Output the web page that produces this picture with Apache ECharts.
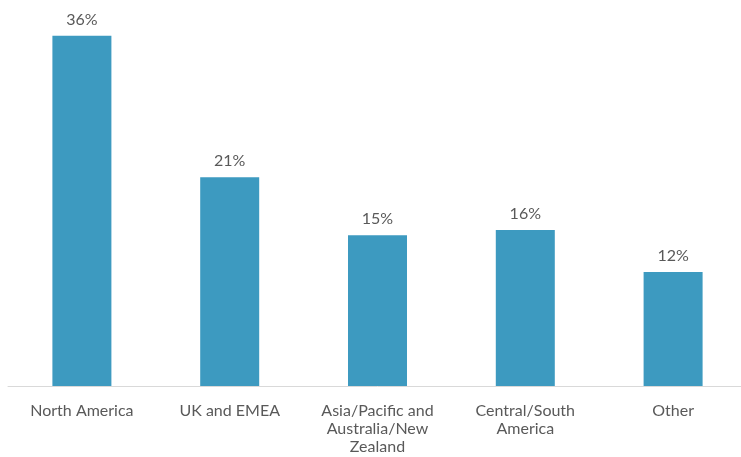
<!DOCTYPE html>
<html><head><meta charset="utf-8">
<script src="https://cdn.jsdelivr.net/npm/echarts@6/dist/echarts.min.js"></script>
<style>html,body{margin:0;padding:0;background:#fff;overflow:hidden}#c{width:747px;height:457px}</style>
</head><body><div id="c"></div>
<script>
const categories = ["North America", "UK and EMEA", "Asia/Pacific and\nAustralia/New\nZealand", "Central/South\nAmerica", "Other"];
const shares = [35.74, 21.3, 15.38, 15.92, 11.63];

const chart = echarts.init(document.getElementById('c'), null, {renderer: 'canvas'});
chart.setOption({
  animation: false,
  grid: {left: 8, right: 0, top: 13.6, bottom: 71, containLabel: false},
  xAxis: {
    type: 'category', data: categories,
    axisLine: {lineStyle: {color: '#D9D9D9', width: 1}},
    axisTick: {show: false},
    axisLabel: {color: '#595959', fontFamily: 'Lato', fontSize: 16, lineHeight: 18, margin: 16, interval: 0}
  },
  yAxis: {type: 'value', min: 0, max: 38, show: false, splitLine: {show: false}},
  series: [{
    type: 'bar', data: shares, barWidth: 59,
    itemStyle: {color: '#3D9AC0'},
    label: {show: true, position: 'top', distance: 8, color: '#595959', fontFamily: 'Lato', fontSize: 16,
      formatter: p => Math.round(p.value) + '%'}
  }]
});
</script></body></html>
